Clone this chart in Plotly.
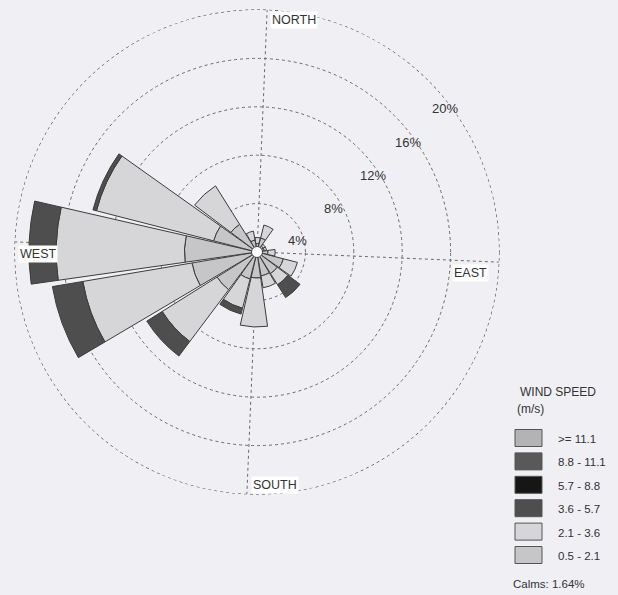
import plotly.graph_objects as go

# ---------------- data ----------------
directions = [0, 22.5, 45, 67.5, 90, 112.5, 135, 157.5,
              180, 202.5, 225, 247.5, 270, 292.5, 315, 337.5]
speed_classes = ["0.5 - 2.1", "2.1 - 3.6", "3.6 - 5.7", "5.7 - 8.8", "8.8 - 11.1", ">= 11.1"]
freq_05_21 = [0.7, 1.2, 0.6, 0.6, 0.9, 2.25, 2.1, 2.0, 2.15, 2.3, 3.9, 5.45, 6.0, 3.7, 2.7, 1.0]
freq_21_36 = [0.5, 1.1, 0.2, 0.2, 0.6, 1.2, 1.1, 1.0, 4.05, 2.5, 5.35, 9.15, 10.6, 10.0, 3.75, 0.75]
freq_36_57 = [0, 0, 0, 0, 0, 0, 1.25, 0, 0, 0.5, 1.5, 2.55, 2.25, 0.3, 0, 0]
freq_57_88 = [0] * 16
freq_88_111 = [0] * 16
freq_111 = [0] * 16
calms_pct = 1.64
ring_ticks = [4, 8, 12, 16, 20]
compass_labels = ["NORTH", "EAST", "SOUTH", "WEST"]

series = [freq_05_21, freq_21_36, freq_36_57, freq_57_88, freq_88_111, freq_111]
colors = ["#c6c6c9", "#d6d6d9", "#4e4e4e", "#161616", "#595959", "#b3b3b3"]

W, H = 618, 595
BG = "#f0eff4"
GRID = "#6a6a6a"


def px(x):
    return x / W


def py(y):
    return 1 - y / H


fig = go.Figure()
for name, vals, col in zip(speed_classes, series, colors):
    has = any(v > 0 for v in vals)
    fig.add_trace(go.Barpolar(
        r=vals, theta=directions, name=name, width=21,
        marker=dict(color=col, line=dict(color="#3c3c3c", width=1 if has else 0)),
        showlegend=False, hoverinfo="skip"))

fig.add_trace(go.Scatterpolar(
    r=[0], theta=[0], mode="markers", showlegend=False, hoverinfo="skip",
    marker=dict(size=11, color="white", line=dict(color="#444", width=1))))

cx, cy, R = 257, 252, 242
rmax = max(ring_ticks)
fig.update_layout(
    width=W, height=H,
    margin=dict(l=0, r=0, t=0, b=0),
    paper_bgcolor=BG,
    showlegend=False,
    font=dict(family="Arial, Liberation Sans", color="#333"),
    polar=dict(
        bgcolor=BG,
        domain=dict(x=[px(cx - R), px(cx + R)], y=[py(cy + R), py(cy - R)]),
        hole=0,
        radialaxis=dict(range=[0, rmax], tickvals=ring_ticks, showticklabels=False,
                        ticks="", showline=False, gridcolor=GRID, griddash="dot",
                        gridwidth=1),
        angularaxis=dict(direction="clockwise", rotation=87.6, tickvals=[0, 90, 180, 270],
                         showticklabels=False, ticks="", showline=False,
                         gridcolor=GRID, griddash="dot", gridwidth=1),
    ),
)

shapes = []
# outer (20 %) ring, drawn as a dotted circle at the edge of the polar domain
shapes.append(dict(type="circle", xref="paper", yref="paper", layer="below",
                   x0=px(cx - R), x1=px(cx + R), y0=py(cy + R), y1=py(cy - R),
                   line=dict(color="#444", width=1.1, dash="dot")))

ann = []


def label(x, y, text, size=12, anchor="center", **kw):
    ann.append(dict(x=px(x), y=py(y), xref="paper", yref="paper", text=text, showarrow=False,
                    xanchor=anchor, yanchor="middle", font=dict(size=size, color="#333"), **kw))


# compass labels
comp_pos = {"NORTH": (294, 20), "EAST": (470, 273), "SOUTH": (275, 485), "WEST": (38, 254)}
for lab in compass_labels:
    x, y = comp_pos[lab]
    label(x, y, lab, size=12.5, bgcolor="white", borderpad=1)
# ring labels
ring_pos = [(297, 240), (333, 208), (373, 175), (408, 142), (445, 108)]
for v, (x, y) in zip(ring_ticks, ring_pos):
    label(x, y, f"{v}%", size=13)

# legend (drawn manually)
label(518, 392, "WIND SPEED", size=12, anchor="left")
label(515, 409, "(m/s)", size=12, anchor="left")
y0 = 438
for i, (name, col) in enumerate(zip(speed_classes[::-1], colors[::-1])):
    yc = y0 + i * 23.4
    shapes.append(dict(type="rect", xref="paper", yref="paper",
                       x0=px(515), x1=px(542), y0=py(yc - 8.5), y1=py(yc + 8.5),
                       fillcolor=col, line=dict(color="#555", width=1)))
    label(556, yc + 1, name, size=11.5, anchor="left")
label(511, 584, f"Calms: {calms_pct:.2f}%", size=11.5, anchor="left")

fig.update_layout(annotations=ann, shapes=shapes)
fig.write_html("out.html",
               config={"displayModeBar": False},
               post_script="document.body.style.margin='0';"
                           "document.body.style.background='#f0eff4';"
                           "document.body.style.overflow='hidden';")
